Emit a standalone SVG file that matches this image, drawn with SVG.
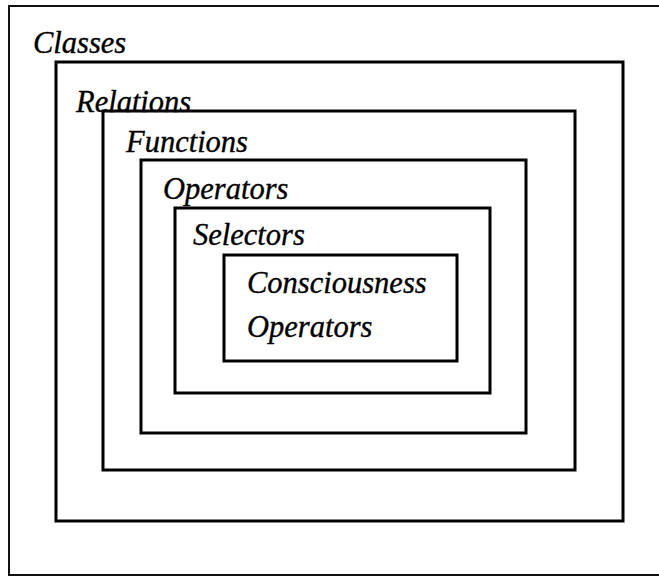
<svg xmlns="http://www.w3.org/2000/svg" width="659" height="577" viewBox="0 0 659 577">
<style>
.box{fill:none;stroke:#000;stroke-width:3}
.outer{fill:none;stroke:#111;stroke-width:2}
.lbl{font-family:'Liberation Serif','Times New Roman',serif;font-style:italic;font-size:30.5px;fill:#000;stroke:#000;stroke-width:0.35}
</style>
<rect x="0" y="0" width="659" height="577" fill="#fff"/>
<g id="classes">
<rect class="outer" x="9" y="6" width="655" height="569"/>
<text class="lbl" x="33" y="53">Classes</text>
</g>
<g id="relations">
<rect class="box" x="56" y="62" width="567" height="459"/>
<text class="lbl" x="76" y="112">Relations</text>
</g>
<g id="functions">
<rect class="box" x="103" y="111" width="472" height="359"/>
<text class="lbl" x="126" y="152">Functions</text>
</g>
<g id="operators">
<rect class="box" x="141" y="160" width="385" height="273"/>
<text class="lbl" x="163" y="199">Operators</text>
</g>
<g id="selectors">
<rect class="box" x="175" y="208" width="315" height="185"/>
<text class="lbl" x="193" y="245">Selectors</text>
</g>
<g id="consciousness-operators">
<rect class="box" x="224" y="255" width="233" height="106"/>
<text class="lbl" x="247" y="293">Consciousness</text>
<text class="lbl" x="247" y="337">Operators</text>
</g>
<g id="connectors"></g>
</svg>
